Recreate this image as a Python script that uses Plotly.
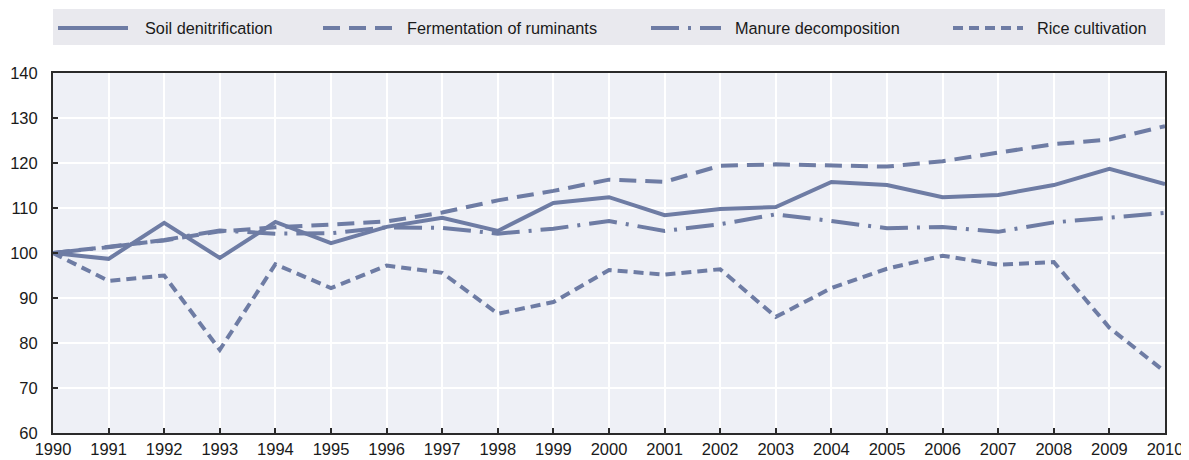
import plotly.graph_objects as go

years = list(range(1990, 2011))
soil = [100, 98.7, 106.7, 98.9, 106.9, 102.2, 105.8, 107.8, 104.9, 111.1, 112.4,
        108.4, 109.8, 110.2, 115.8, 115.1, 112.4, 112.9, 115.1, 118.7, 115.3]
ferment = [100, 101.5, 102.8, 104.8, 105.7, 106.3, 107.0, 109.0, 111.7, 113.8, 116.3,
           115.8, 119.4, 119.7, 119.4, 119.2, 120.4, 122.3, 124.2, 125.2, 128.2]
manure = [100, 101.3, 102.9, 105.0, 104.3, 104.4, 105.7, 105.6, 104.3, 105.4, 107.1,
          104.9, 106.4, 108.6, 107.1, 105.5, 105.8, 104.7, 106.8, 107.8, 108.9]
rice = [100, 93.8, 95.0, 78.5, 97.5, 92.2, 97.2, 95.6, 86.5, 89.1, 96.2,
        95.2, 96.4, 85.8, 92.2, 96.5, 99.4, 97.4, 98.0, 83.4, 73.6]
names = ["Soil denitrification", "Fermentation of ruminants", "Manure decomposition", "Rice cultivation"]
series = [soil, ferment, manure, rice]
y_ticks = [60, 70, 80, 90, 100, 110, 120, 130, 140]

COLOR = "#6e7ca4"
dashes = ["solid", "17px,9px", "28px,9px,3px,9px", "10px,6px"]
LW = 4
FONT = "Liberation Sans, Arial, sans-serif"
TXT = "#1a1a1a"

# page body has an 8px margin; work in window pixels and shift
OFF = 8
W, H = 1189 - OFF, 460 - OFF
PL, PR, PT, PB = 53, 1165, 73, 433  # plot area in window pixels
ML, MR, MT, MB = PL - OFF, W - (PR - OFF), PT - OFF, H - (PB - OFF)
PW, PH = PR - PL, PB - PT

def px_x(x):
    return (x - PL) / PW

def px_y(y):
    return 1 + (PT - y) / PH

fig = go.Figure()
for name, vals, d in zip(names, series, dashes):
    fig.add_trace(go.Scatter(x=years, y=vals, mode="lines", name=name,
                             line=dict(color=COLOR, width=LW, dash=d), showlegend=False))

shapes = [dict(type="rect", xref="paper", yref="paper", x0=px_x(53), x1=px_x(1165),
               y0=px_y(45), y1=px_y(9), fillcolor="#e9e9ee", line=dict(width=0), layer="below")]
annotations = []
line_x = [58, 323, 651, 953]
text_x = [143, 405, 733, 1035]
ly = 28
for name, d, lx, tx in zip(names, dashes, line_x, text_x):
    shapes.append(dict(type="line", xref="paper", yref="paper", x0=px_x(lx), x1=px_x(lx + 70),
                       y0=px_y(ly), y1=px_y(ly), line=dict(color=COLOR, width=LW, dash=d)))
    annotations.append(dict(xref="paper", yref="paper", x=px_x(tx), y=px_y(ly), text=name,
                            showarrow=False, xanchor="left", yanchor="middle",
                            font=dict(size=16.3, color=TXT, family=FONT)))

fig.update_layout(
    width=W, height=H,
    margin=dict(l=ML, r=MR, t=MT, b=MB, pad=0, autoexpand=False),
    paper_bgcolor="white", plot_bgcolor="#eef0f6",
    font=dict(family=FONT, size=16.5, color=TXT),
    shapes=shapes, annotations=annotations,
    xaxis=dict(range=[1990, 2010], tickmode="array", tickvals=years, automargin=False,
               ticktext=[str(y) for y in years], showgrid=True, gridcolor="white", gridwidth=2,
               showline=True, linecolor="#2a2a2a", linewidth=2, mirror=True,
               ticks="inside", ticklen=5, tickwidth=1.5, tickcolor="#2a2a2a", zeroline=False),
    yaxis=dict(range=[60, 140], tickmode="array", tickvals=y_ticks, automargin=False,
               showgrid=True, gridcolor="white", gridwidth=2, ticklabelstandoff=10,
               showline=True, linecolor="#2a2a2a", linewidth=2, mirror=True,
               ticks="inside", ticklen=5, tickwidth=1.5, tickcolor="#2a2a2a", zeroline=False),
)
fig.write_html("out.html")
